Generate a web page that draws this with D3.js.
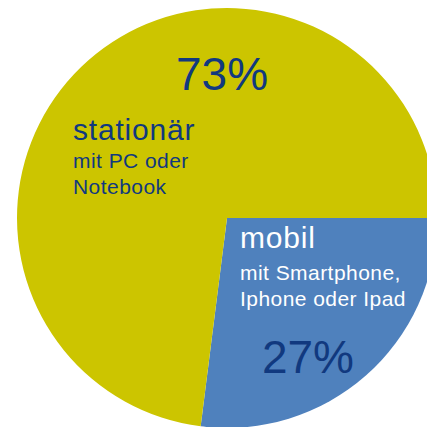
<!DOCTYPE html>
<html lang="de">
<head>
  <meta charset="utf-8">
  <title>stationär / mobil</title>
  <script src="https://d3js.org/d3.v7.min.js"></script>
  <style>
    body { margin: 0; background: #fff; }
    svg { display: block; font-family: "Liberation Sans", Arial, sans-serif; }
  </style>
</head>
<body>
<div id="chart"></div>
<script>
// data
var categories = ["mobil", "stationär"];
var values = [27, 73];
var percentLabels = ["27%", "73%"];
var subLabels = [["mit Smartphone,", "Iphone oder Ipad"], ["mit PC oder", "Notebook"]];
var colors = ["#4f81bd", "#ccc500"];

var width = 427, height = 427;
var cx = 227, cy = 218, radius = 210;
var darkBlue = "#11397f";

var svg = d3.select("#chart").append("svg")
    .attr("width", width)
    .attr("height", height);

var g = svg.append("g")
    .attr("transform", "translate(" + cx + "," + cy + ")");

// mobil starts at 3 o'clock and runs clockwise
var pie = d3.pie()
    .sort(null)
    .startAngle(Math.PI / 2)
    .endAngle(Math.PI / 2 + 2 * Math.PI)
    .value(function(d) { return d; });

var arc = d3.arc().innerRadius(0).outerRadius(radius);

g.selectAll("path.slice")
  .data(pie(values))
  .enter()
  .append("path")
    .attr("class", "slice")
    .attr("d", arc)
    .attr("fill", function(d, i) { return colors[i]; });

// label blocks (relative to pie centre)
var labelPos = [
  { name: [13, 30], sub: [13, 62], pct: [81, 155], fill: "#fff" },
  { name: [-154, -78], sub: [-154, -50], pct: [-5, -128], fill: darkBlue }
];

categories.forEach(function(c, i) {
  var p = labelPos[i];
  g.append("text")
    .attr("x", p.name[0]).attr("y", p.name[1])
    .attr("fill", p.fill)
    .attr("font-size", 30)
    .attr("letter-spacing", 0.8)
    .text(c);

  var t = g.append("text")
    .attr("x", p.sub[0]).attr("y", p.sub[1])
    .attr("fill", p.fill)
    .attr("font-size", 21)
    .attr("letter-spacing", 0.45);
  subLabels[i].forEach(function(line, j) {
    t.append("tspan")
      .attr("x", p.sub[0])
      .attr("dy", j === 0 ? 0 : 26)
      .text(line);
  });

  g.append("text")
    .attr("x", p.pct[0]).attr("y", p.pct[1])
    .attr("text-anchor", "middle")
    .attr("fill", darkBlue)
    .attr("font-size", 46)
    .text(percentLabels[i]);
});
</script>
</body>
</html>
